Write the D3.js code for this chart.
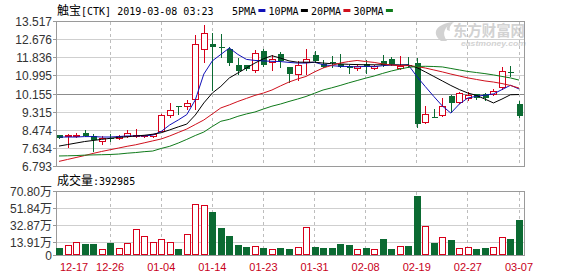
<!DOCTYPE html>
<meta charset="utf-8">
<script src="https://cdn.jsdelivr.net/npm/d3@7"></script>
<style>body{margin:0;background:#fff;}</style>
<body><div id="draw"></div>
<script>

  // trading days shown (US market, CTK)
  var dates = ["12-17","12-18","12-19","12-20","12-21","12-24","12-26","12-27","12-28","12-31",
    "01-02","01-03","01-04","01-07","01-08","01-09","01-10","01-11","01-14","01-15",
    "01-16","01-17","01-18","01-22","01-23","01-24","01-25","01-28","01-29","01-30",
    "01-31","02-01","02-04","02-05","02-06","02-07","02-08","02-11","02-12","02-13",
    "02-14","02-15","02-19","02-20","02-21","02-22","02-25","02-26","02-27","02-28",
    "03-01","03-04","03-05","03-06","03-07"];

  var open = [8.24,8.20,8.20,8.36,8.21,7.92,8.13,8.05,8.15,8.20,
    8.15,8.15,8.41,9.14,9.60,9.54,9.88,12.21,12.47,12.35,
    12.26,11.49,11.49,11.24,12.16,11.59,12.01,11.39,11.02,11.58,
    11.95,11.55,11.63,11.55,11.47,11.33,11.55,11.33,11.70,11.79,
    11.33,11.52,11.59,8.81,9.10,9.12,10.05,9.74,9.94,10.15,
    10.15,10.10,10.43,11.18,9.69];
  var high = [8.27,8.30,8.33,8.48,8.30,8.21,8.30,8.25,8.48,8.53,
    8.27,8.30,9.23,9.72,9.60,9.88,12.89,13.34,12.98,12.94,
    12.32,11.82,11.52,12.21,12.26,11.95,12.10,11.40,11.67,12.24,
    12.16,11.75,11.90,12.01,11.51,11.55,11.75,11.50,11.98,11.86,
    11.90,11.88,11.82,9.59,9.47,9.97,10.09,10.25,10.25,10.15,
    10.20,10.40,11.39,11.44,9.84];
  var low = [8.07,7.64,8.10,8.17,7.47,7.79,7.94,8.03,8.10,8.10,
    8.13,8.10,8.40,9.03,9.18,9.41,9.41,11.59,10.30,11.82,
    11.44,11.05,11.21,11.13,11.39,11.21,11.36,10.67,10.74,11.05,
    11.59,11.36,11.36,11.36,11.08,11.21,11.08,11.26,11.39,11.44,
    11.28,11.38,8.58,8.78,9.05,9.07,9.27,9.69,9.84,9.88,
    9.82,10.05,10.36,10.93,9.04];
  var close = [8.10,8.25,8.25,8.20,8.02,8.13,8.11,8.21,8.36,8.25,
    8.24,8.30,9.18,9.41,9.54,9.72,12.47,12.98,12.32,12.30,
    11.59,11.24,11.33,12.06,11.51,11.79,11.70,11.08,11.51,11.76,
    11.70,11.39,11.60,11.39,11.36,11.44,11.39,11.44,11.51,11.55,
    11.47,11.45,8.76,9.23,9.09,9.59,9.74,10.20,10.12,9.97,
    9.97,10.31,11.24,11.12,9.15];

  // volume in 万 shares
  var volume = [7.9,11.7,14.6,12.4,12.4,6.9,13.5,8.0,13.5,29.0,
    21.3,14.6,18.0,14.6,7.2,23.5,56.8,55.7,48.0,30.9,
    21.7,11.7,9.8,10.5,8.0,6.9,8.0,6.9,9.1,31.7,
    9.8,8.0,8.0,12.4,11.7,6.9,8.0,6.9,18.3,6.9,
    10.2,10.5,66.0,32.4,13.9,20.2,16.9,8.0,9.1,7.2,
    8.0,9.1,20.2,18.3,39.2985];

  // moving averages
  var ma5 = [8.16,8.16,8.16,8.18,8.18,8.16,8.16,8.18,8.21,8.21,
    8.21,8.25,8.42,8.72,8.95,9.20,9.88,11.08,11.69,11.99,
    12.29,11.99,11.76,11.71,11.69,11.67,11.66,11.62,11.59,11.59,
    11.63,11.51,11.47,11.44,11.43,11.41,11.44,11.42,11.47,11.50,
    11.49,11.51,10.97,10.50,10.04,9.60,9.27,9.69,9.97,10.05,
    10.10,10.16,10.36,10.56,10.39];
  var ma10 = [7.74,7.81,7.88,7.95,8.00,8.05,8.10,8.14,8.17,8.21,
    8.24,8.29,8.36,8.49,8.63,8.76,9.18,9.74,10.20,10.51,
    10.90,11.13,11.36,11.59,11.79,11.93,11.82,11.69,11.63,11.63,
    11.63,11.59,11.56,11.55,11.53,11.52,11.51,11.51,11.51,11.51,
    11.50,11.50,11.38,11.18,10.97,10.76,10.55,10.36,10.20,10.09,
    9.92,9.74,9.92,10.12,10.13];
  var ma20 = [7.03,7.12,7.21,7.30,7.40,7.49,7.57,7.65,7.73,7.80,
    7.89,7.98,8.07,8.21,8.37,8.53,8.74,8.95,9.23,9.51,
    9.65,9.81,9.95,10.09,10.20,10.34,10.53,10.71,10.85,10.97,
    11.18,11.36,11.48,11.59,11.66,11.71,11.66,11.62,11.55,11.50,
    11.47,11.47,11.43,11.36,11.27,11.18,11.08,10.99,10.90,10.83,
    10.76,10.71,10.64,10.55,10.43];
  var ma30 = [7.28,7.29,7.30,7.32,7.33,7.34,7.35,7.37,7.41,7.44,
    7.48,7.51,7.63,7.73,7.88,8.05,8.23,8.39,8.65,8.89,
    8.98,9.12,9.23,9.32,9.46,9.59,9.69,9.81,9.92,10.04,
    10.19,10.34,10.44,10.55,10.67,10.78,10.89,10.99,11.11,11.22,
    11.31,11.39,11.43,11.44,11.43,11.41,11.34,11.27,11.20,11.15,
    11.10,11.04,10.97,10.90,10.80];

  var priceTicks = [13.517,12.676,11.836,10.995,10.155,9.315,8.474,7.634,6.793];
  var volTicks = [70.80,51.84,32.87,13.91,0];
  var dateTicks = ["12-17","12-26","01-04","01-14","01-23","01-31","02-08","02-19","02-27","03-07"];
  var maNames = ["5PMA","10PMA","20PMA","30PMA"];
  var maColors = ["#1010b8","#000000","#d0101c","#0f7a1a"];

  var stockName = "触宝";
  var stockInfo = "[CTK] 2019-03-08 03:23";
  var upColor = "#d7001a";
  var downColor = "#0b6a32";

  var width = 578, height = 276;
  var plot = {left: 56, right: 525, top: 21.5, bottom: 166.5};
  var vplot = {top: 191.5, bottom: 255.5};

  var svg = d3.select("#draw").append("svg")
    .attr("width", width).attr("height", height)
    .style("font-family", "'Liberation Sans', Arial, 'Noto Sans CJK SC', sans-serif");

  var x = d3.scalePoint().domain(dates).range([59, 519]);
  var y = d3.scaleLinear().domain([priceTicks[priceTicks.length-1], priceTicks[0]]).range([plot.bottom, plot.top]);
  var yv = d3.scaleLinear().domain([0, volTicks[0]]).range([vplot.bottom, vplot.top]);
  var half = function(v){ return Math.round(v - 0.5) + 0.5; };

  var mono = "'DejaVu Sans Mono','Liberation Mono',monospace";
  var cjk = "'Noto Sans CJK SC',sans-serif";

  // header: title + MA legend (cjk 12px, ascii 10px mono ~ 6px/char)
  var head = svg.append("text").attr("x", 57).attr("y", 15).attr("fill", "#000");
  head.append("tspan").style("font-family", cjk).style("font-size", "12px").text(stockName);
  head.append("tspan").style("font-family", mono).style("font-size", "10px").text(stockInfo);

  var lx = 232;
  maNames.forEach(function(name, i){
    var w = name.length * 6.1;
    svg.append("text").attr("x", lx).attr("y", 15)
      .style("font-family", mono).style("font-size", "10px").attr("fill", "#000")
      .text(name);
    svg.append("rect").attr("x", lx + w + 2).attr("y", 9).attr("width", 7).attr("height", 3)
      .attr("fill", maColors[i]);
    lx += w + 2 + 7 + 3;
  });

  // watermark
  var wm = svg.append("g").attr("fill", "#d2d2d2");
  wm.append("path").attr("d", "M441,41 C431,33 436,24 453,22 C445,27 441,33 447,41 Z");
  wm.append("path").attr("d", "M447,30 C446,26 449,23 454,22 C450,25 449,28 450,31 Z");
  wm.append("text").attr("x", 453).attr("y", 36).attr("textLength", 72).attr("lengthAdjust", "spacingAndGlyphs")
    .style("font-family", cjk).style("font-size", "15px").style("font-weight", "bold")
    .text("东方财富网");
  wm.append("text").attr("x", 461).attr("y", 46).attr("textLength", 65).attr("lengthAdjust", "spacingAndGlyphs")
    .style("font-size", "7.5px").style("font-weight", "bold").style("font-style", "italic")
    .text("eastmoney.com");

  var grid = svg.append("g").attr("shape-rendering", "crispEdges");

  // price panel grid
  priceTicks.forEach(function(t, i){
    var yy = half(y(t));
    grid.append("line").attr("x1", plot.left).attr("x2", plot.right).attr("y1", yy).attr("y2", yy)
      .attr("stroke", i == 4 ? "#8c8c8c" : "#cfcfcf");
    grid.append("line").attr("x1", plot.left - 3).attr("x2", plot.left).attr("y1", yy).attr("y2", yy)
      .attr("stroke", "#999");
    svg.append("text").attr("x", 52).attr("y", yy + 4).attr("text-anchor", "end")
      .style("font-size", "12px").attr("fill", "#333").text(t.toFixed(3));
  });

  // volume panel grid
  volTicks.forEach(function(t, i){
    var yy = half(yv(t));
    grid.append("line").attr("x1", plot.left).attr("x2", plot.right).attr("y1", yy).attr("y2", yy)
      .attr("stroke", "#cfcfcf");
    grid.append("line").attr("x1", plot.left - 3).attr("x2", plot.left).attr("y1", yy).attr("y2", yy)
      .attr("stroke", "#999");
    svg.append("text").attr("x", 52).attr("y", yy + 4).attr("text-anchor", "end")
      .style("font-size", "12px").attr("fill", "#333").text(t == 0 ? "0" : t.toFixed(2) + "万");
  });

  // vertical dashed lines at labelled dates
  dateTicks.slice(1).forEach(function(d){
    var xx = half(x(d));
    [[plot.top, plot.bottom], [vplot.top, vplot.bottom]].forEach(function(r){
      grid.append("line").attr("x1", xx).attr("x2", xx).attr("y1", r[0]).attr("y2", r[1])
        .attr("stroke", "#bdbdbd").attr("stroke-dasharray", "3,3");
    });
  });

  // frames
  grid.append("rect").attr("x", plot.left + 0.5).attr("y", plot.top).attr("width", plot.right - plot.left - 1)
    .attr("height", plot.bottom - plot.top).attr("fill", "none").attr("stroke", "#9a9a9a");
  grid.append("rect").attr("x", plot.left + 0.5).attr("y", vplot.top).attr("width", plot.right - plot.left - 1)
    .attr("height", vplot.bottom - vplot.top).attr("fill", "none").attr("stroke", "#9a9a9a");

  // candles
  var candles = svg.append("g").attr("shape-rendering", "crispEdges");
  dates.forEach(function(d, i){
    var cx = Math.round(x(d));
    var up = close[i] > open[i];
    var col = up ? upColor : downColor;
    var top = Math.round(y(Math.max(open[i], close[i])));
    var bot = Math.round(y(Math.min(open[i], close[i])));
    candles.append("line").attr("x1", cx + 0.5).attr("x2", cx + 0.5)
      .attr("y1", Math.round(y(high[i]))).attr("y2", Math.round(y(low[i])))
      .attr("stroke", col);
    if (up) {
      candles.append("rect").attr("x", cx - 2.5).attr("y", top + 0.5)
        .attr("width", 6).attr("height", Math.max(bot - top - 1, 1))
        .attr("fill", "#fff").attr("stroke", col);
    } else {
      candles.append("rect").attr("x", cx - 2).attr("y", top)
        .attr("width", 6).attr("height", Math.max(bot - top, 1))
        .attr("fill", col);
    }
  });

  // moving average lines, on top of candles
  var maLayer = svg.append("g");
  [ma5, ma10, ma20, ma30].forEach(function(series, k){
    var line = d3.line()
      .x(function(v, i){ return x(dates[i]); })
      .y(function(v){ return y(v); });
    maLayer.append("path").datum(series).attr("d", line)
      .attr("fill", "none").attr("stroke", maColors[k]).attr("stroke-width", 1);
  });

  // volume bars
  var vols = svg.append("g").attr("shape-rendering", "crispEdges");
  dates.forEach(function(d, i){
    var cx = Math.round(x(d));
    var up = close[i] > open[i];
    var top = Math.round(yv(volume[i]));
    var bot = Math.round(vplot.bottom - 0.5);
    if (up) {
      vols.append("rect").attr("x", cx - 2.5).attr("y", top + 0.5)
        .attr("width", 6).attr("height", bot - top - 1)
        .attr("fill", "#fff").attr("stroke", upColor);
    } else {
      vols.append("rect").attr("x", cx - 3).attr("y", top)
        .attr("width", 7).attr("height", bot - top)
        .attr("fill", downColor);
    }
  });

  var vt = svg.append("text").attr("x", 57).attr("y", 185).attr("fill", "#000");
  vt.append("tspan").style("font-family", cjk).style("font-size", "12px").text("成交量");
  vt.append("tspan").style("font-family", mono).style("font-size", "10px")
    .text(":" + Math.round(volume[volume.length-1] * 10000));

  // date labels
  dateTicks.forEach(function(d, i){
    svg.append("text").attr("y", 271).attr("fill", "#c8001a")
      .style("font-size", "11px").attr("text-anchor", i == 0 ? "start" : "middle")
      .attr("x", i == 0 ? 60 : x(d)).text(d);
  });

</script>
</body>
